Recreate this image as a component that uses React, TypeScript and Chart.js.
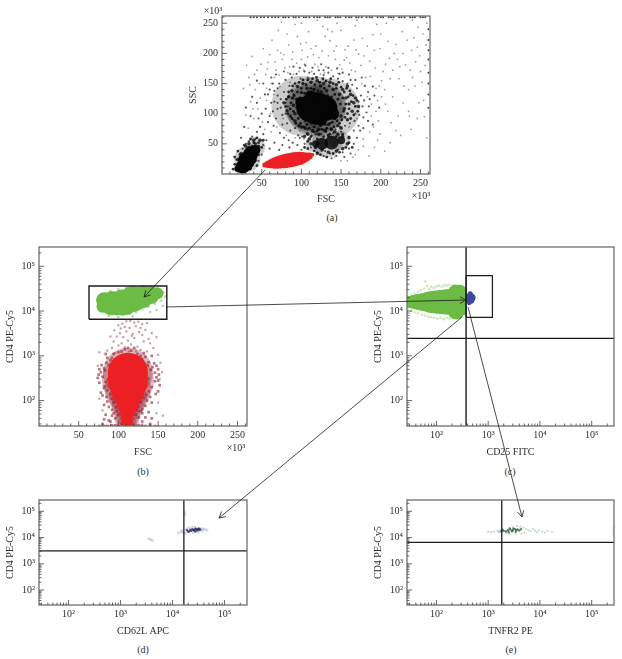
import { useEffect, useRef } from "react";
import { Chart, registerables } from "chart.js";

Chart.register(...registerables);

type Pt = [number, number];

// ---------- tick values ----------
const linearTicks = [50, 100, 150, 200, 250];
const linearMinor = [10, 20, 30, 40, 60, 70, 80, 90, 110, 120, 130, 140, 160, 170, 180, 190, 210, 220, 230, 240, 260];
const logTicks = [100, 1000, 10000, 100000];
const logMinor = [30, 40, 50, 60, 70, 80, 90, 200, 300, 400, 500, 600, 700, 800, 900, 2000, 3000, 4000, 5000, 6000, 7000, 8000, 9000, 20000, 30000, 40000, 50000, 60000, 70000, 80000, 90000, 200000];

// ---------- panel (a): FSC / SSC ----------
const aSparse: Pt[] = [[31,180],[38,195],[44,172],[52,208],[47,150],[58,185],[63,222],[66,160],[71,238],[74,201],[79,176],[84,214],[88,190],[92,248],[95,228],[101,205],[104,182],[109,236],[113,170],[118,212],[122,193],[127,245],[131,178],[136,221],[141,204],[146,167],[150,238],[154,189],[159,212],[163,172],[168,246],[172,199],[177,225],[181,160],[186,187],[190,231],[194,142],[199,208],[203,170],[207,250],[211,192],[215,128],[219,215],[223,158],[227,236],[231,181],[235,104],[239,205],[243,146],[247,243],[250,170],[254,122],[257,214],[225,64],[219,72],[236,96],[206,116],[213,85],[188,96],[196,122],[205,140],[228,118],[240,160],[252,152],[256,180],[246,210],[233,222],[221,190],[209,220],[200,232],[192,205],[183,212],[175,180],[166,222],[157,193],[148,181],[139,236],[130,228],[124,166],[115,198],[106,218],[97,170],[90,165],[82,232],[76,190],[68,172],[60,198],[55,165],[48,126],[42,140],[36,120],[30,98],[27,142],[33,76],[40,92],[45,108],[51,86],[56,122],[61,100],[65,132],[69,78],[73,145],[77,92],[81,64],[62,70],[54,74],[86,152],[92,60],[98,72],[103,58],[110,158],[160,78],[170,92],[178,58],[186,70],[192,44],[172,40],[165,28],[185,30],[150,22],[142,28],[133,240],[100,250],[75,252],[120,255],[145,250],[170,255],[195,248],[215,256],[240,255],[258,250],[255,95],[248,118],[258,60],[238,74],[212,52],[205,38],[197,88],[183,128],[176,150],[168,170],[143,190],[121,178],[100,190],[85,178],[70,205],[56,142],[34,160],[39,108],[215,172],[228,200],[244,186],[235,140],[222,96],[209,104],[246,92],[201,155],[35,148],[41,165],[49,182],[57,174],[62,150],[67,186],[72,164],[78,198],[83,168],[89,202],[94,184],[99,216],[103,172],[108,194],[112,208],[117,182],[126,204],[129,168],[134,196],[138,172],[144,212],[151,174],[155,206],[161,184],[169,206],[179,196],[187,162],[193,176],[198,146],[206,182],[212,158],[217,200],[224,178],[229,146],[237,172],[242,226],[249,196],[253,232],[201,128],[194,104],[188,116],[191,78],[199,66],[178,46],[168,32],[158,22],[196,56]];
const aTopEdge: Pt[] = [[36,260],[40,260],[44,260],[49,260],[53,260],[58,260],[63,260],[67,260],[71,260],[77,260],[80,260],[84,260],[90,260],[93,260],[97,260],[103,260],[106,260],[110,260],[116,260],[120,260],[123,260],[130,260],[133,260],[136,260],[143,260],[146,260],[149,260],[156,260],[160,260],[163,260],[169,260],[172,260],[176,260],[182,260],[186,260],[189,260],[196,260],[200,260],[203,260],[210,260],[213,260],[216,260],[223,260],[226,260],[230,260],[237,260],[240,260],[243,260],[250,260],[253,260],[256,260],[260,240],[260,222],[260,205],[260,190],[260,168],[260,150],[260,132],[260,110]];
const aMedium: Pt[] = [[62,118],[66,138],[70,108],[72,150],[74,124],[76,98],[78,136],[80,156],[82,84],[83,112],[85,146],[86,72],[88,160],[90,132],[92,76],[94,166],[96,64],[99,158],[101,62],[104,170],[107,68],[110,168],[113,64],[116,166],[119,70],[122,172],[125,66],[128,164],[131,70],[134,168],[137,76],[140,162],[143,74],[146,158],[149,78],[152,154],[155,80],[158,150],[161,84],[164,148],[167,88],[170,142],[173,98],[175,130],[177,112],[179,122],[172,80],[166,72],[160,62],[170,60],[178,76],[182,102],[184,136],[68,92],[60,96],[58,132],[55,108],[65,80],[73,68],[78,60],[84,56],[89,52],[95,48],[100,40],[94,36],[106,32],[85,44],[76,48],[72,40],[66,52],[60,42],[56,56],[52,66],[48,78],[44,70],[42,58],[52,48],[47,40],[38,62],[34,54],[30,50],[26,42],[22,32],[18,24],[42,30],[46,22],[38,18],[50,32],[112,30],[120,36],[128,30],[136,34],[144,30],[152,36],[160,42],[166,50],[162,34],[154,28],[146,40],[138,26],[130,38],[108,74],[118,66],[128,72],[140,68],[150,70],[112,44],[104,50],[98,60],[90,90],[70,130],[64,150],[68,165],[78,170],[90,178],[105,180],[125,182],[145,175],[160,165],[176,160],[190,145],[185,112],[192,130],[178,94],[190,82],[198,110],[30,110],[36,96],[28,78],[24,60],[38,128],[44,118],[50,100],[54,132],[46,92],[58,86],[64,104],[70,118],[52,150],[44,155],[60,140],[66,120],[74,110],[80,100],[76,82],[84,128],[80,118],[70,142],[62,160],[86,166],[98,176],[114,176],[134,176],[152,168],[168,156],[180,146],[186,124],[174,72],[184,88],[168,100],[172,120],[162,156],[148,166],[128,172],[108,160]];
const aRing: Pt[] = [[80,112],[81,124],[83,100],[84,136],[86,108],[87,118],[88,92],[89,146],[90,104],[91,130],[92,150],[93,84],[94,110],[95,136],[96,92],[97,152],[98,126],[99,84],[100,142],[101,98],[102,156],[103,78],[104,134],[105,88],[106,148],[107,82],[108,156],[109,136],[110,76],[111,92],[112,142],[113,84],[114,158],[115,134],[116,78],[117,148],[118,90],[119,160],[120,72],[121,138],[122,86],[123,152],[124,80],[125,136],[126,74],[127,158],[128,90],[129,142],[130,82],[131,154],[132,76],[133,130],[134,92],[135,146],[136,84],[137,158],[138,128],[139,86],[140,150],[141,78],[142,132],[143,96],[144,142],[145,88],[146,124],[147,152],[148,84],[149,116],[150,144],[151,90],[152,126],[153,104],[154,136],[155,94],[156,116],[157,142],[158,100],[159,128],[160,108],[161,138],[162,92],[163,120],[165,130],[166,98],[168,112],[170,122],[171,104],[104,44],[108,54],[112,62],[116,38],[120,58],[124,32],[128,62],[132,28],[136,66],[140,34],[144,62],[148,36],[152,66],[156,44],[160,52],[164,44],[108,42],[116,70],[28,48],[34,44],[40,52],[46,52],[50,44],[52,56],[44,60],[36,58],[20,38],[16,16],[14,8],[16,28],[46,32],[42,22],[38,14],[44,14]];
const aHalo: Pt[] = [[78,118],[82,105],[84,128],[86,96],[88,138],[90,114],[92,88],[94,124],[95,145],[97,80],[98,104],[100,135],[102,150],[103,92],[105,76],[107,142],[109,125],[110,88],[112,152],[114,72],[116,140],[118,84],[120,155],[122,74],[124,146],[126,88],[128,150],[130,72],[132,138],[134,82],[136,152],[138,74],[140,140],[142,92],[144,148],[146,80],[148,132],[150,96],[152,140],[154,108],[156,126],[158,90],[160,116],[162,132],[164,104],[166,118],[158,146],[168,126],[150,76],[172,112],[92,100],[96,118],[89,126],[100,78],[108,66],[122,66],[134,64],[146,66],[110,58],[118,44],[126,40],[134,36],[144,38],[152,42],[158,50],[160,60],[152,62],[112,50],[104,62],[120,34],[142,70],[30,46],[34,50],[38,46],[42,50],[46,46],[40,56],[48,56],[44,40],[36,40],[24,34],[20,24],[42,28],[38,22],[34,14]];
const aSoft: Pt[] = [[100,113],[118,112],[136,108],[108,110],[128,110],[118,110],[132,52],[118,50],[148,56],[32,25],[42,45]];
const aSoftRadius = [30, 30, 30, 23, 23, 27, 15, 10, 10, 13, 10];
const aCore: Pt[] = [[110,109],[129,109],[119,109],[100,118],[140,100],[125,90],[112,128],[26,12],[31,23],[36,33],[42,40],[20,9],[33,12],[38,24]];
const aCoreRadius = [13, 13, 16, 6, 6, 6, 6, 7, 8.5, 7.5, 5, 3.5, 4, 4.5];
const aBottomCore: Pt[] = [[118,50],[126,50],[138,52],[150,56]];
const aBottomRadius = [3.5, 6, 7, 4];
const aLens: Pt[] = [[54,15],[58,16],[62,17],[66,18],[70,19],[74,20],[78,21],[82,22],[86,23],[90,24],[94,25],[98,26],[102,27],[106,28],[110,30],[114,32]];
const aLensRadius = [2.5, 3.6, 4.6, 5.6, 6.2, 6.6, 7, 7.2, 7.2, 7.2, 7, 6.6, 5.6, 4.6, 3.4, 1.8];

// ---------- panel (b): FSC / CD4 ----------
const bGreenCore: Pt[] = [[92,15000],[105,15500],[118,18500],[130,20500],[140.5,22800],[149,25000],[82,17500],[80,12500],[98,11500],[112,11300]];
const bGreenRadius = [12, 13, 13, 11, 9, 6, 8, 6, 7, 6];
const bGreenFringe: Pt[] = [[76,15000],[78,11500],[80,19000],[83,9800],[86,22000],[90,9000],[94,25000],[98,8400],[102,27000],[106,8200],[110,29000],[114,8800],[118,30000],[122,9500],[126,32000],[130,11000],[134,33000],[138,12500],[142,34000],[146,14500],[150,31000],[154,17000],[157,26000],[159,21000],[156,13000],[148,10500],[140,9500],[118,7600],[100,7400],[88,7800],[127,12500],[136,14500],[145,17000],[152,20000],[155,24000],[90,28000],[100,31000],[110,33000],[120,35000],[131,36000]];
const bRedCore: Pt[] = [[112,420],[112,280],[112,180],[112,115],[112,78],[111,52],[111,36],[111,29]];
const bRedRadius = [20, 20, 17, 13, 10, 7, 6, 5];
const bMaroonRadius = [25, 26, 23, 19, 16, 13, 12, 10];
const bRedHalo: Pt[] = [[92,900],[130,850],[85,700],[138,720],[82,520],[143,560],[78,430],[146,420],[80,340],[148,330],[84,260],[146,270],[88,210],[142,200],[86,170],[138,160],[90,140],[135,135],[92,110],[132,115],[94,90],[128,92],[97,72],[125,74],[98,58],[124,60],[100,48],[122,48],[96,40],[126,42],[88,36],[130,34],[80,30],[140,30],[100,1200],[108,1400],[116,1300],[124,1100],[88,620],[137,610],[83,470],[141,490],[87,300],[138,310],[90,230],[135,240],[93,175],[131,180],[95,130],[128,140],[98,100],[126,105],[100,82],[122,80],[103,66],[120,66],[92,46],[130,52],[84,48],[138,55],[82,80],[142,90],[78,150],[150,160],[76,250],[152,220],[75,380],[150,500],[84,1100],[142,1000],[104,30],[118,29],[96,28],[126,28],[110,27],[86,27],[134,27],[76,27],[146,27],[86,900],[134,950],[79,620],[145,680],[76,500],[148,600],[74,320],[151,380],[82,190],[147,140],[85,120],[140,120],[86,95],[136,100],[88,72],[134,76],[92,62],[130,64],[94,52],[128,58],[90,34],[134,42],[82,38],[142,40],[94,1100],[132,1150],[104,1250],[120,1500],[112,1500],[90,800],[128,1000],[83,210],[150,280],[80,130],[92,28],[100,27],[122,27],[130,27],[140,27],[82,27]];
const bPinkSparse: Pt[] = [[86,1300],[92,1500],[96,1150],[100,1700],[104,1900],[108,1550],[112,2200],[116,1800],[120,2500],[124,1600],[128,1350],[132,2100],[136,1250],[140,1900],[144,1500],[148,2600],[94,2100],[98,2700],[102,3200],[106,2600],[110,3500],[114,4200],[118,3100],[122,4600],[126,3400],[130,2900],[134,3800],[138,2400],[142,3200],[90,2700],[95,3700],[100,4800],[105,5200],[110,5900],[115,6000],[120,5500],[125,5800],[130,5100],[128,4200],[136,5400],[108,4400],[103,4100],[117,2800],[113,1250],[122,1250],[150,1050],[153,700],[155,430],[152,300],[76,1200],[74,600],[150,90],[148,52],[156,46],[76,110],[80,60]];
const bGate: Pt[] = [[63,6550],[63,36300],[161,36300],[161,6550],[63,6550]];

// ---------- panel (c): CD25 / CD4 ----------
const cGreenCore: Pt[] = [[30,16000],[36,16000],[44,16000],[54,16000],[66,16000],[80,16000],[98,16000],[120,16000],[146,16000],[180,16000],[240,25000],[240,16000],[240,10000],[290,29000],[290,22500],[290,17000],[290,13000],[290,10200],[345,30000],[345,26000],[345,22000],[345,18500],[345,15000],[345,13000],[345,11000],[345,9200]];
const cGreenRadius = [6, 7, 8, 9, 10, 11, 11.5, 12, 12.5, 13, 8.5, 9, 8.5, 5.5, 5.5, 5.5, 5.5, 5.5, 2, 2, 2, 2, 2, 2, 2, 2];
const cGreenFringe: Pt[] = [[28,21000],[33,23000],[38,25000],[44,27000],[50,29000],[58,32000],[66,36000],[72,31000],[80,35000],[90,33000],[100,36000],[112,37000],[126,35000],[142,38000],[160,37000],[178,39000],[200,37000],[226,38000],[260,37000],[300,36000],[340,34000],[28,11000],[33,10200],[38,9400],[44,9000],[52,8300],[60,8000],[68,7500],[78,7300],[90,7100],[104,6800],[120,7100],[138,6600],[158,7200],[180,6700],[206,7100],[236,7000],[270,7400],[310,7900],[350,8600],[60,46000],[356,16000],[356,24000],[356,30000]];
const cBlue: Pt[] = [[454,19500],[440,22000],[470,17000],[420,17500],[510,20500],[450,24500],[430,15000]];
const cBlueRadius = [5, 3, 3, 3, 2.4, 2.5, 2];
const cGate: Pt[] = [[374,7250],[374,61600],[1208,61600],[1208,7250],[374,7250]];
const cVertical: Pt[] = [[374,27],[374,280000]];
const cHorizontal: Pt[] = [[27,2460],[270000,2460]];

// ---------- panel (d): CD62L / CD4 ----------
const dDark: Pt[] = [[25000,19500],[27000,20500],[29000,20000],[31000,21000],[33000,19500],[23000,18000],[26000,18500],[30000,18800],[28000,22000],[24000,21000],[21000,17500],[19000,19000],[32000,22500],[34000,20500],[22000,20000],[27500,17000],[20000,16500]];
const dPale: Pt[] = [[13000,15000],[14500,17000],[16000,16000],[17500,14500],[18500,21000],[20500,23500],[24000,25500],[27000,25000],[36000,22000],[39000,21000],[42000,20500],[46000,19500],[37000,18000],[15500,18500],[25000,15000],[31000,16000],[3800,8500],[4100,7800],[3500,9000],[17000,90000],[17200,75000]];
const dVertical: Pt[] = [[16500,27],[16500,270000]];
const dHorizontal: Pt[] = [[27,3120],[270000,3120]];

// ---------- panel (e): TNFR2 / CD4 ----------
const eDark: Pt[] = [[2400,19000],[2700,20000],[3000,19500],[3300,21000],[3500,19000],[2200,17000],[2500,16000],[2900,17500],[3100,22000],[3700,20500],[2000,18000],[1900,20000],[4000,18500],[2600,22500],[3400,16500],[4300,21000],[1800,17000]];
const ePaleGreen: Pt[] = [[4800,24000],[5400,21000],[6000,19000],[6600,17500],[7400,21000],[8000,18000],[8800,16000],[9600,19000],[11000,17000],[12500,15500],[14000,17500],[17000,16500],[5000,15000],[3600,28000],[4200,26000],[3000,25000],[2200,14500],[2600,13500],[3400,14000],[4400,14000],[265000,12000],[265000,18000],[265000,26000],[265000,15000],[265000,22000]];
const ePaleBlue: Pt[] = [[1000,16500],[1150,15800],[1300,17000],[1500,18000],[1650,17500],[1750,19500],[1600,16000]];
const eVertical: Pt[] = [[1830,27],[1830,270000]];
const eHorizontal: Pt[] = [[27,6600],[270000,6600]];

// ---------- annotation text and connecting arrows ----------
const captions: [string, number, number][] = [["(a)", 332, 217], ["(b)", 143, 471], ["(c)", 510, 471], ["(d)", 143, 649], ["(e)", 511, 649]];
const multipliers: [string, number, number][] = [["×10³", 213, 10], ["×10³", 421, 195], ["×10³", 236, 447]];
const arrows: [number, number, number, number][] = [[265, 170, 144, 297], [166, 307, 466, 300], [462, 317, 219, 518], [468, 307, 522, 517]];

// ---------- styles and panel definitions ----------
const FONT = "'Liberation Serif', 'Times New Roman', serif";
const TEXT = "#2e2e2e";
const FRAME = "#6f6f6f";
const GREEN = "#6cbb45";
const RED = "#ec2024";

type Layer = { points: Pt[]; radius?: number | number[]; color?: string; square?: boolean; line?: number };
type Spec = {
  box: [number, number, number, number];
  plot: [number, number, number, number];
  xLog: boolean;
  yLog: boolean;
  xTitle: string;
  yTitle: string;
  layers: Layer[];
};

const LOG_MIN = 27;
const LOG_MAX = 270000;
const LIN_MAX = 262;

const specs: Spec[] = [
  {
    box: [187, 0, 253, 205], plot: [222, 16, 430, 174], xLog: false, yLog: false, xTitle: "FSC", yTitle: "SSC",
    layers: [
      { points: aSparse, radius: 0.9, color: "rgba(80,80,80,0.55)" },
      { points: aTopEdge, radius: 1, color: "rgba(30,30,30,0.85)" },
      { points: aSoft, radius: aSoftRadius, color: "rgba(0,0,0,0.2)" },
      { points: aMedium, radius: 1.1, color: "rgba(0,0,0,0.65)" },
      { points: aRing, radius: 1.4, color: "rgba(0,0,0,0.8)" },
      { points: aHalo, radius: 1.8, color: "rgba(0,0,0,0.75)" },
      { points: aBottomCore, radius: aBottomRadius, color: "rgba(5,5,5,0.85)" },
      { points: aCore, radius: aCoreRadius, color: "#050505" },
      { points: aLens, radius: aLensRadius.map((r) => r + 1.4), color: "#eef3ea" },
      { points: aLens, radius: aLensRadius, color: RED },
    ],
  },
  {
    box: [4, 230, 252, 228], plot: [39, 247, 247, 426], xLog: false, yLog: true, xTitle: "FSC", yTitle: "CD4 PE-Cy5",
    layers: [
      { points: bPinkSparse, radius: 1.5, color: "rgba(165,90,100,0.6)", square: true },
      { points: bRedHalo, radius: 1.9, color: "rgba(140,25,40,0.6)", square: true },
      { points: bRedCore, radius: bMaroonRadius, color: "rgba(150,30,45,0.32)" },
      { points: bRedCore, radius: bRedRadius, color: RED },
      { points: bGreenFringe, radius: 1.4, color: "rgba(108,187,69,0.5)" },
      { points: bGreenCore, radius: bGreenRadius, color: GREEN },
      { points: bGate, line: 1.4 },
    ],
  },
  {
    box: [372, 230, 250, 228], plot: [407, 247, 614, 426], xLog: true, yLog: true, xTitle: "CD25 FITC", yTitle: "CD4 PE-Cy5",
    layers: [
      { points: cGreenFringe, radius: 1.3, color: "rgba(108,187,69,0.35)" },
      { points: cGreenCore, radius: cGreenRadius, color: GREEN },
      { points: cBlue, radius: cBlueRadius, color: "#3a489f" },
      { points: cGate, line: 1.2 },
      { points: cVertical, line: 1.4 },
      { points: cHorizontal, line: 1.2 },
    ],
  },
  {
    box: [4, 484, 252, 153], plot: [39, 500, 247, 605], xLog: true, yLog: true, xTitle: "CD62L APC", yTitle: "CD4 PE-Cy5",
    layers: [
      { points: dPale, radius: 1.5, color: "rgba(170,170,200,0.45)" },
      { points: dDark, radius: 1.2, color: "rgba(40,45,95,0.8)" },
      { points: dVertical, line: 1.3 },
      { points: dHorizontal, line: 1.2 },
    ],
  },
  {
    box: [372, 484, 250, 153], plot: [407, 500, 614, 605], xLog: true, yLog: true, xTitle: "TNFR2 PE", yTitle: "CD4 PE-Cy5",
    layers: [
      { points: ePaleBlue, radius: 1, color: "rgba(150,155,195,0.6)" },
      { points: ePaleGreen, radius: 1.1, color: "rgba(160,195,165,0.6)" },
      { points: eDark, radius: 1.2, color: "rgba(45,100,60,0.8)" },
      { points: eVertical, line: 1.3 },
      { points: eHorizontal, line: 1.2 },
    ],
  },
];

const SUPER: Record<string, string> = { "100": "10²", "1000": "10³", "10000": "10⁴", "100000": "10⁵" };

const frameAndTicks = {
  id: "frameAndTicks",
  afterDatasetsDraw(chart: any) {
    const { ctx, chartArea: a, scales } = chart;
    ctx.save();
    ctx.strokeStyle = FRAME;
    ctx.lineWidth = 1.3;
    ctx.strokeRect(a.left, a.top, a.right - a.left, a.bottom - a.top);
    ctx.strokeStyle = "#444";
    ctx.lineWidth = 0.8;
    const mark = (axis: any, list: number[], len: number) => {
      for (const v of list) {
        if (v < axis.min || v > axis.max) continue;
        const p = axis.getPixelForValue(v);
        ctx.beginPath();
        if (axis.isHorizontal()) {
          ctx.moveTo(p, a.bottom);
          ctx.lineTo(p, a.bottom - len);
        } else {
          ctx.moveTo(a.left, p);
          ctx.lineTo(a.left + len, p);
        }
        ctx.stroke();
      }
    };
    for (const axis of [scales.x, scales.y]) {
      const log = axis.type === "logarithmic";
      mark(axis, log ? logTicks : linearTicks, 5);
      mark(axis, log ? logMinor : linearMinor, 2.5);
    }
    ctx.restore();
  },
};

function axisOptions(isLog: boolean, horizontal: boolean, title: string, size: number) {
  const font = { family: FONT, size: 10 };
  return {
    type: isLog ? "logarithmic" : "linear",
    position: horizontal ? "bottom" : "left",
    min: isLog ? LOG_MIN : 0,
    max: isLog ? LOG_MAX : LIN_MAX,
    grid: { display: false, drawTicks: false },
    border: { display: false },
    ticks: {
      autoSkip: false,
      maxRotation: 0,
      minRotation: 0,
      padding: horizontal ? 3 : 4,
      color: TEXT,
      font,
      callback: (v: number) => (isLog ? SUPER[String(v)] ?? "" : String(v)),
    },
    title: { display: true, text: title, color: TEXT, font, padding: 0 },
    afterBuildTicks: (s: any) => {
      s.ticks = (isLog ? logTicks : linearTicks).map((value) => ({ value }));
    },
    afterFit: (s: any) => {
      if (horizontal) s.height = size;
      else s.width = size;
    },
  };
}

function Panel({ spec }: { spec: Spec }) {
  const ref = useRef<HTMLCanvasElement>(null);
  const [bx, by, bw, bh] = spec.box;
  const [l, t, r, b] = spec.plot;
  useEffect(() => {
    const n = spec.layers.length;
    const chart = new Chart(ref.current as HTMLCanvasElement, {
      type: "scatter",
      data: {
        datasets: spec.layers.map((layer, i) => ({
          data: layer.points.map(([x, y]) => ({ x, y })),
          order: n - i,
          showLine: !!layer.line,
          borderColor: "#1c1c1c",
          borderWidth: layer.line ?? 0,
          tension: 0,
          pointRadius: layer.line ? 0 : layer.radius ?? 1,
          pointHoverRadius: 0,
          pointBorderWidth: 0,
          pointBackgroundColor: layer.color ?? "#000",
          pointStyle: layer.square ? "rect" : "circle",
        })),
      },
      options: {
        responsive: false,
        animation: false,
        events: [],
        layout: { autoPadding: false, padding: { top: t - by, right: bx + bw - r, left: 0, bottom: 0 } },
        plugins: { legend: { display: false }, tooltip: { enabled: false }, title: { display: false } },
        scales: {
          x: axisOptions(spec.xLog, true, spec.xTitle, by + bh - b),
          y: axisOptions(spec.yLog, false, spec.yTitle, l - bx),
        },
      } as any,
      plugins: [frameAndTicks],
    } as any);
    return () => chart.destroy();
  }, [spec]);
  return (
    <canvas
      ref={ref}
      width={bw}
      height={bh}
      style={{ position: "absolute", left: bx, top: by, width: bw, height: bh, display: "block", filter: "blur(0.3px)" }}
    />
  );
}

function Label({ text, x, y }: { text: string; x: number; y: number }) {
  return (
    <div
      style={{
        position: "absolute",
        left: x,
        top: y,
        transform: "translate(-50%, -50%)",
        font: `10px ${FONT}`,
        color: TEXT,
        whiteSpace: "nowrap",
      }}
    >
      {text}
    </div>
  );
}

function arrowHead(x1: number, y1: number, x2: number, y2: number) {
  const ang = Math.atan2(y2 - y1, x2 - x1);
  const len = 7;
  const spread = 0.5;
  return `M${x2 - len * Math.cos(ang - spread)},${y2 - len * Math.sin(ang - spread)} L${x2},${y2} L${x2 - len * Math.cos(ang + spread)},${y2 - len * Math.sin(ang + spread)}`;
}

export default function App() {
  return (
    <div style={{ position: "absolute", left: 0, top: 0, width: 622, height: 659, background: "#fff", overflow: "hidden" }}>
      {specs.map((s, i) => (
        <Panel key={i} spec={s} />
      ))}
      {captions.map(([t, x, y]) => (
        <Label key={t} text={t} x={x} y={y} />
      ))}
      {multipliers.map(([t, x, y], i) => (
        <Label key={i} text={t} x={x} y={y} />
      ))}
      <svg width={622} height={659} style={{ position: "absolute", left: 0, top: 0, pointerEvents: "none" }}>
        {arrows.map(([x1, y1, x2, y2], i) => (
          <g key={i} fill="none" stroke="#1e1e1e" strokeWidth={0.8}>
            <line x1={x1} y1={y1} x2={x2} y2={y2} />
            <path d={arrowHead(x1, y1, x2, y2)} />
          </g>
        ))}
      </svg>
    </div>
  );
}
